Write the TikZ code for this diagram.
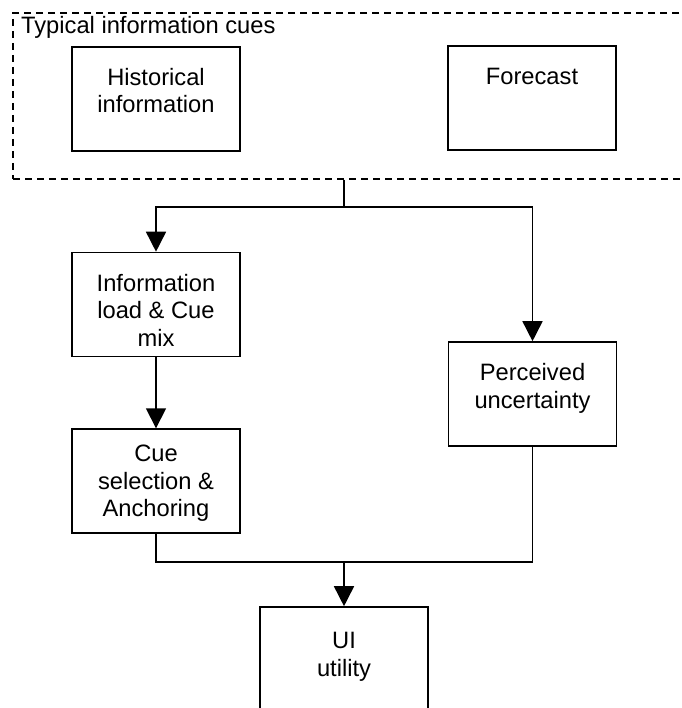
\documentclass[tikz,border=0pt]{standalone}
\usepackage{fontspec}
\setmainfont{Liberation Sans}
\usetikzlibrary{positioning, arrows.meta}

\tikzstyle{cuebox} = [
rectangle,
minimum width=168pt,
minimum height=104pt,
inner sep=0pt,
line width=1.6pt,
draw
]
\tikzstyle{groupbox} = [
rectangle,
minimum width=694pt,
minimum height=166pt,
inner sep=0pt,
line width=1.4pt,
dash pattern=on 7pt off 5pt,
draw
]
\tikzstyle{arrow}=[-{Triangle[length=20pt,width=20pt]}, line width=1.6pt]
\tikzstyle{line}=[line width=1.6pt]
\newcommand{\boxlines}[2]{\parbox[c][104pt][t]{168pt}{\centering\rule{0pt}{#1pt}#2}}

\begin{document}
\begin{tikzpicture}[x=1pt, y=-1pt, font=\fontsize{23.7pt}{27.5pt}\selectfont]
        \useasboundingbox (0,0) rectangle (681,708);
        \clip (0,0) rectangle (681,708);

        % information cues group
        \node(cues)[groupbox] at (360,96) {};
        \node(cuestitle)[anchor=base west, inner sep=0pt] at (21,33.5)
        {Typical information cues};

        \node(hist)[cuebox] at (156,99)
        {\boxlines{38.5}{Historical\\information}};

        \node(forecast)[cuebox] at (532,98)
        {\boxlines{38.5}{Forecast}};

        % processing steps
        \node(infoload)[cuebox] at (156,304.5)
        {\boxlines{38.5}{Information\\load \& Cue\\mix}};

        \node(cuesel)[cuebox, below=71pt of infoload]
        {\boxlines{32.5}{Cue\\selection \&\\Anchoring}};

        \node(perceived)[cuebox] at (532.5,394)
        {\boxlines{38.5}{Perceived\\uncertainty}};

        \node(utility)[cuebox] at (344,659)
        {\boxlines{41.5}{UI\\utility}};

        \coordinate(split) at (344,207);
        \coordinate(merge) at (344,562);

        \draw[line] (cues.south -| split) -- (split);
        \draw[arrow] (split) -| (infoload);
        \draw[arrow] (split) -| (perceived);

        \draw[arrow] (infoload)--(cuesel);

        \draw[line] (cuesel) |- (merge);
        \draw[line] (perceived) |- (merge);
        \draw[arrow] (merge)--(utility);

\end{tikzpicture}
\end{document}
